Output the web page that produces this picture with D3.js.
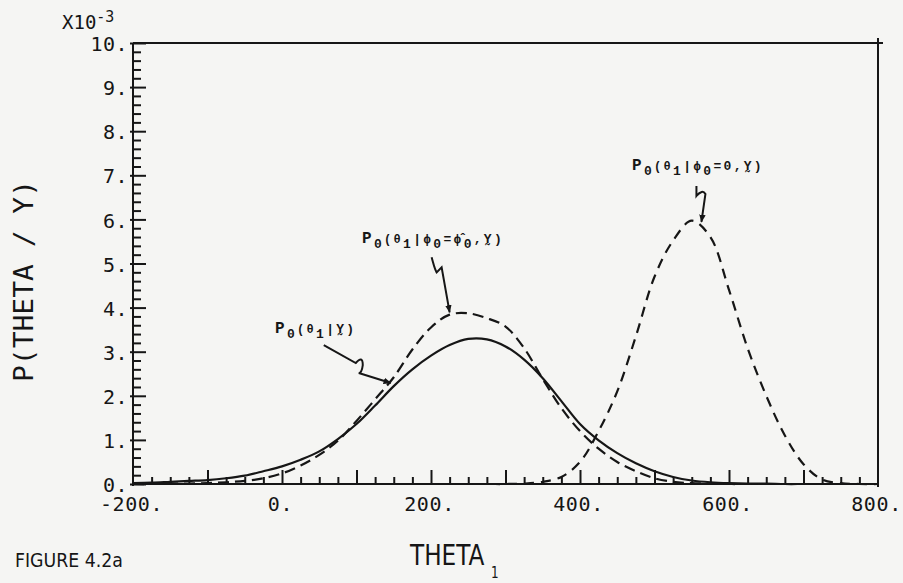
<!DOCTYPE html>
<html><head><meta charset="utf-8">
<script src="https://cdn.jsdelivr.net/npm/d3@7"></script>
<style>html,body{margin:0;padding:0;background:#f5f5f3;} svg{display:block;}</style>
</head><body><svg id="c" width="903" height="583"></svg>
<script>
// ---- data ----
const thetaValues = [-200,-175,-150,-125,-100,-75,-50,-25,0,25,50,75,100,125,150,175,200,225,250,275,300,325,350,375,400,425,450,475,500,525,550,575,600,625,650,675,700,725,750,775,800];
// P0(theta1 | Y)  (solid), x 1e-3
const pPosterior = [0.02,0.03,0.05,0.07,0.09,0.13,0.19,0.29,0.40,0.55,0.74,1.02,1.36,1.78,2.22,2.60,2.91,3.15,3.29,3.28,3.12,2.82,2.40,1.88,1.36,0.99,0.70,0.47,0.29,0.16,0.08,0.04,0.02,0.01,0.01,0.00,0.00,0.00,0.00,0.00,0.00];
// P0(theta1 | phi0 = phi0-hat, Y)  (dashed)
const pGivenPhiHat = [0.00,0.00,0.01,0.01,0.02,0.04,0.07,0.13,0.24,0.42,0.66,0.98,1.43,1.92,2.42,3.05,3.55,3.84,3.87,3.76,3.57,3.08,2.38,1.72,1.20,0.80,0.50,0.29,0.13,0.05,0.02,0.01,0.00,0.00,0.00,0.00,0.00,0.00,0.00,0.00,0.00];
// P0(theta1 | phi0 = 0, Y)  (dashed)
const pGivenPhiZero = [0,0,0,0,0,0,0,0,0,0,0,0,0,0,0,0,0,0,0,0,0,0.01,0.05,0.16,0.50,1.20,2.10,3.35,4.70,5.52,5.97,5.60,4.40,3.08,2.00,1.10,0.45,0.10,0.02,0.00,0.00];
const xTickValues = [-200,0,200,400,600,800];
const xTickLabels = ["-200.","0.","200.","400.","600.","800."];
const yTickValues = [0,1,2,3,4,5,6,7,8,9,10];
const yTickLabels = ["0.","1.","2.","3.","4.","5.","6.","7.","8.","9.","10."];

const svg = d3.select("#c");
const ink = "#161616";
svg.append("rect").attr("width",903).attr("height",583).attr("fill","#f5f5f3");

const x = d3.scaleLinear().domain([-200,800]).range([133,878]);
const y = d3.scaleLinear().domain([0,10]).range([484,43]);

// frame
svg.append("line").attr("x1",x(-200)).attr("x2",x(800)+5).attr("y1",y(10)).attr("y2",y(10)).attr("stroke",ink).attr("stroke-width",2);
svg.append("line").attr("x1",x(800)).attr("x2",x(800)).attr("y1",y(10)-5).attr("y2",y(0)+3).attr("stroke",ink).attr("stroke-width",2);
svg.append("line").attr("x1",x(-200)).attr("x2",x(-200)).attr("y1",y(10)).attr("y2",y(0)+2).attr("stroke",ink).attr("stroke-width",2);
svg.append("line").attr("x1",x(-200)).attr("x2",x(800)).attr("y1",y(0)).attr("y2",y(0)).attr("stroke",ink).attr("stroke-width",2);

function styleAxis(g){
  g.select(".domain").remove();
  g.selectAll(".tick line").attr("stroke",ink).attr("stroke-width",2);
  g.selectAll(".tick text").attr("fill",ink).attr("font-family","'DejaVu Sans Mono', monospace").attr("font-size",20);
}

// y ticks
const yMinor = d3.range(0,10.001,0.2).filter(v=>Math.abs(v-Math.round(v))>1e-6);
svg.append("g").attr("transform",`translate(${x(-200)},0)`)
  .call(d3.axisRight(y).tickValues(yMinor).tickSize(8).tickFormat("")).call(styleAxis);
svg.append("g").attr("transform",`translate(${x(-200)},0)`)
  .call(d3.axisLeft(y).tickValues(yTickValues).tickSize(3).tickFormat("")).call(styleAxis);
svg.append("g").attr("transform",`translate(${x(-200)},0)`)
  .call(d3.axisLeft(y).tickValues(yTickValues).tickSize(-13).tickPadding(5)
  .tickFormat((d,i)=>yTickLabels[i])).call(styleAxis)
  .selectAll(".tick text").attr("dy","0.38em").attr("letter-spacing","0.5");

// x ticks
const xMinor = d3.range(-175,800,25).filter(v=>v%100!==0);
svg.append("g").attr("transform",`translate(0,${y(0)})`)
  .call(d3.axisBottom(x).tickValues(xMinor).tickSize(-7).tickFormat("")).call(styleAxis);
const xMajor = d3.range(-100,800,100);
svg.append("g").attr("transform",`translate(0,${y(0)})`)
  .call(d3.axisBottom(x).tickValues(xMajor).tickSize(-14).tickFormat("")).call(styleAxis);
svg.append("g").attr("transform",`translate(0,${y(0)})`)
  .call(d3.axisBottom(x).tickValues(xTickValues).tickSize(0).tickPadding(13)
  .tickFormat((d,i)=>xTickLabels[i])).call(styleAxis)
  .selectAll(".tick text").attr("dx","-2").attr("letter-spacing","0.6");

// curves
const pts = arr => thetaValues.map((t,i)=>[t,arr[i]]);
const line = d3.line().x(d=>x(d[0])).y(d=>y(Math.max(0,d[1]))).curve(d3.curveCatmullRom.alpha(0.5));
svg.append("path").attr("d",line(pts(pPosterior))).attr("fill","none").attr("stroke",ink).attr("stroke-width",2.2);
svg.append("path").attr("d",line(pts(pGivenPhiHat))).attr("fill","none").attr("stroke",ink).attr("stroke-width",2.2).attr("stroke-dasharray","11,6");
svg.append("path").attr("d",line(pts(pGivenPhiZero))).attr("fill","none").attr("stroke",ink).attr("stroke-width",2.2).attr("stroke-dasharray","10,7");

// axis titles
svg.append("text").attr("transform","translate(23,281) rotate(-90)")
  .attr("text-anchor","middle").attr("dominant-baseline","central")
  .attr("font-family","'DejaVu Sans Mono', monospace").attr("font-size",27)
  .attr("textLength",202).attr("lengthAdjust","spacingAndGlyphs").attr("fill",ink)
  .text("P(THETA / Y)");
const xt = svg.append("text").attr("transform","translate(410,565) scale(0.8,1)")
  .attr("font-family","'DejaVu Sans', sans-serif").attr("font-size",29).attr("fill",ink);
xt.append("tspan").text("THETA");
xt.append("tspan").attr("dx",8).attr("dy",13).attr("font-size",15).text("1");
svg.append("text").attr("x",15).attr("y",567).attr("font-family","'DejaVu Sans', sans-serif")
  .attr("font-size",19).attr("textLength",108).attr("lengthAdjust","spacingAndGlyphs").attr("fill",ink).text("FIGURE 4.2a");
const mult = svg.append("text").attr("x",62).attr("y",29).attr("font-family","'DejaVu Sans Mono', monospace").attr("fill",ink);
mult.append("tspan").attr("font-size",19).text("X10");
mult.append("tspan").attr("font-size",15).attr("dy",-7).text("-3");

// annotations
function label(x0, y0, parts){
  const t = svg.append("text").attr("x",x0).attr("y",y0)
    .attr("font-family","'Liberation Mono', 'Courier New', monospace").attr("font-weight","bold")
    .attr("font-size",13).attr("letter-spacing",2.3).attr("fill",ink);
  let level = 0;
  parts.forEach(p=>{
    const ts = t.append("tspan").text(p[0]);
    const target = p[1]==="sub" ? 5 : 0;
    if (target!==level){ ts.attr("dy", target-level); level = target; }
    if (p[2]) ts.attr("font-size",p[2]);
  });
}
label(362, 243, [["P",0,16],["0","sub",13],["(θ",0,12],["1","sub",13],["|ϕ",0,13],["0","sub",13],["=ϕ̂",0,13],["0","sub",13],[",Y̰)",0,13]]);
label(632, 170, [["P",0,16],["0","sub",13],["(θ",0,12],["1","sub",13],["|ϕ",0,13],["0","sub",13],["=0,Y̰)",0,13]]);
label(275, 333, [["P",0,16],["0","sub",13],["(θ",0,12],["1","sub",13],["|Y̰)",0,13]]);

svg.append("defs").append("marker").attr("id","ah").attr("viewBox","0 0 10 10")
  .attr("refX",9).attr("refY",5).attr("markerWidth",8).attr("markerHeight",8)
  .attr("markerUnits","userSpaceOnUse").attr("orient","auto")
  .append("path").attr("d","M0,1 L10,5 L0,9 Z").attr("fill",ink);

function squiggle(tx, ty, d){
  svg.append("path").attr("transform",`translate(${tx},${ty})`).attr("d",d)
    .attr("fill","none").attr("stroke",ink).attr("stroke-width",2).attr("marker-end","url(#ah)");
}
squiggle(x(225), y(3.87)-1, "M-18,-55 C-16,-48 -15,-43 -13,-40 L-8,-45 L0,0");
squiggle(x(563), y(5.92)-1, "M-5,-36 L-5,-26 Q1,-33 4,-28 L0,0");
squiggle(x(146), y(2.29), "M-67,-38 L-35,-20 Q-28,-28 -28,-18 Q-29,-10 -32,-10 L0,0");
</script></body></html>
